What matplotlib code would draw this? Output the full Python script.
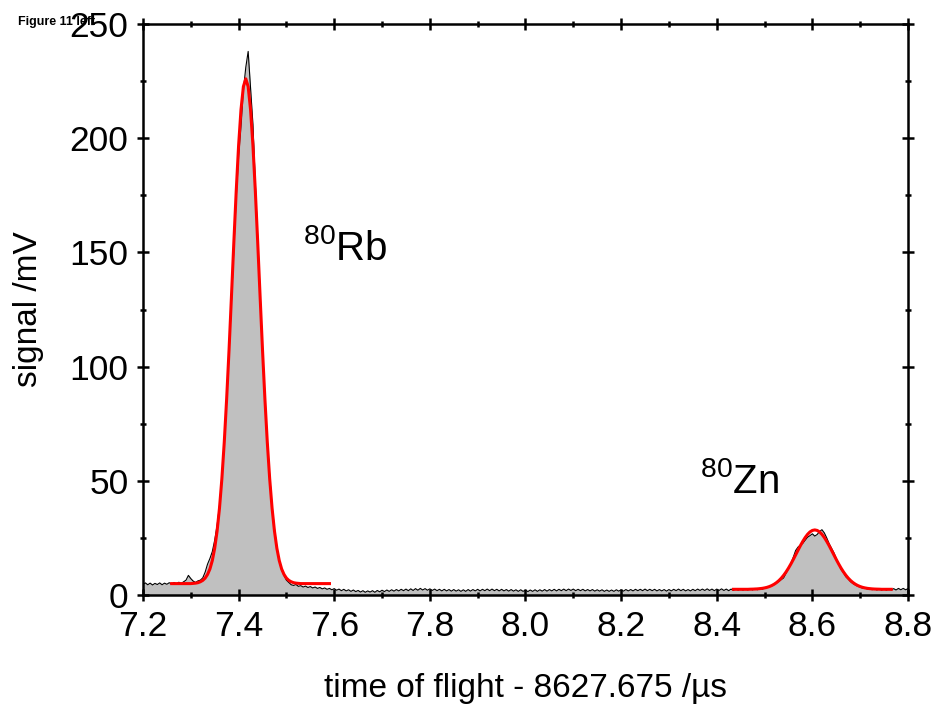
import numpy as np
import matplotlib
matplotlib.use("Agg")
import matplotlib.pyplot as plt
from matplotlib.ticker import MultipleLocator

# =====================================================
# SETTINGS
# =====================================================

plt.rcParams["font.family"] = ["Liberation Sans", "DejaVu Sans"]
plt.rcParams["mathtext.fontset"] = "custom"
plt.rcParams["mathtext.rm"] = "Liberation Sans"
plt.rcParams["mathtext.it"] = "Liberation Sans"

# =====================================================
# DATA
# =====================================================

T_START = 7.200
T_STEP = 0.005

# measured signal /mV, one value per bin from 7.200 to 8.800
signal = [
    4.6, 5.3, 4.5, 5.2, 4.4, 5.1, 4.6, 5.3, 4.5, 5.2,
    4.7, 5.4, 4.8, 5.5, 4.9, 5.6, 5.1, 5.8, 6.5, 8.6,
    7.2, 6.1, 5.5, 6.2, 6.5, 7.5, 10.0, 13.5, 16.0, 19.0,
    24.0, 30.5, 39.0, 51.0, 66.0, 85.0, 106.0, 129.0, 152.0, 174.0,
    192.0, 205.0, 221.0, 231.0, 238.0, 222.0, 206.0, 180.0, 156.0, 132.0,
    108.0, 87.0, 68.0, 52.0, 39.0, 29.0, 21.0, 15.0, 11.0, 8.5,
    6.5, 5.5, 4.5, 4.2, 4.6, 3.8, 4.1, 3.5, 3.9, 3.3,
    3.7, 3.1, 3.5, 2.9, 3.3, 2.7, 3.1, 2.5, 2.9, 2.3,
    2.8, 2.1, 2.6, 1.9, 2.5, 1.8, 2.3, 1.6, 2.2, 1.5,
    2.0, 1.3, 1.9, 1.2, 1.8, 1.3, 1.9, 1.2, 2.0, 1.4,
    2.1, 1.5, 2.2, 1.6, 2.3, 1.7, 2.4, 1.8, 2.5, 1.9,
    2.6, 1.9, 2.7, 2.0, 2.8, 2.1, 2.9, 2.2, 2.8, 2.1,
    2.7, 2.0, 2.6, 1.9, 2.5, 1.8, 2.5, 1.8, 2.4, 1.7,
    2.4, 1.7, 2.3, 1.6, 2.3, 1.6, 2.4, 1.7, 2.4, 1.8,
    2.5, 1.8, 2.5, 1.9, 2.6, 1.9, 2.6, 1.9, 2.5, 1.8,
    2.5, 1.8, 2.4, 1.7, 2.4, 1.7, 2.3, 1.6, 2.3, 1.6,
    2.2, 1.5, 2.2, 1.6, 2.3, 1.6, 2.3, 1.7, 2.4, 1.7,
    2.4, 1.8, 2.5, 1.8, 2.5, 1.9, 2.6, 1.9, 2.6, 2.0,
    2.6, 1.9, 2.5, 1.9, 2.5, 1.8, 2.4, 1.8, 2.4, 1.7,
    2.3, 1.7, 2.3, 1.6, 2.2, 1.6, 2.2, 1.6, 2.3, 1.7,
    2.3, 1.7, 2.4, 1.8, 2.4, 1.8, 2.5, 1.9, 2.5, 1.9,
    2.6, 1.9, 2.5, 1.9, 2.5, 1.8, 2.4, 1.8, 2.4, 1.7,
    2.4, 1.8, 2.5, 1.9, 2.6, 1.9, 2.5, 1.8, 2.4, 1.8,
    2.5, 1.9, 2.6, 2.0, 2.6, 2.0, 2.7, 2.0, 2.6, 1.9,
    2.6, 2.0, 2.7, 2.0, 2.6, 1.9, 2.6, 2.0, 2.7, 2.1,
    2.7, 2.1, 2.8, 2.2, 2.8, 2.2, 2.9, 2.3, 2.9, 2.5,
    3.0, 3.3, 3.6, 4.0, 4.6, 5.3, 5.9, 6.7, 7.5, 9.5,
    11.5, 13.8, 16.5, 19.5, 21.0, 21.8, 22.6, 24.0, 25.3, 26.0,
    26.8, 25.8, 26.5, 27.8, 28.6, 27.2, 25.0, 22.5, 20.5, 18.5,
    16.0, 13.5, 11.2, 9.8, 8.0, 7.0, 5.8, 5.0, 4.4, 3.8,
    3.5, 3.0, 3.2, 2.6, 2.9, 2.3, 2.8, 2.2, 2.7, 2.1,
    2.7, 2.1, 2.8, 2.2, 2.8, 2.2, 2.9, 2.3, 2.9, 2.3,
    2.8,
]

# fitted curve for 80Rb, 7.260 ... 7.590
RB_FIT_START = 7.260
rb_fit = [
    5.0, 5.0, 5.0, 5.0, 5.0, 5.0, 5.0, 5.0, 5.0, 5.1,
    5.2, 5.4, 5.8, 6.4, 7.4, 9.0, 11.4, 15.1, 20.5, 28.0,
    38.0, 50.9, 66.9, 85.9, 107.3, 130.5, 154.2, 176.8, 196.8, 212.5,
    222.6, 226.0, 222.6, 212.5, 196.8, 176.8, 154.2, 130.5, 107.3, 85.9,
    66.9, 50.9, 38.0, 28.0, 20.5, 15.1, 11.4, 9.0, 7.4, 6.4,
    5.8, 5.4, 5.2, 5.1, 5.0, 5.0, 5.0, 5.0, 5.0, 5.0,
    5.0, 5.0, 5.0, 5.0, 5.0, 5.0, 5.0,
]

# fitted curve for 80Zn, 8.435 ... 8.765
ZN_FIT_START = 8.435
zn_fit = [
    2.5, 2.5, 2.5, 2.5, 2.5, 2.5, 2.5, 2.55, 2.58, 2.62,
    2.69, 2.79, 2.92, 3.11, 3.36, 3.70, 4.15, 4.72, 5.44, 6.32,
    7.39, 8.66, 10.12, 11.77, 13.59, 15.54, 17.58, 19.63, 21.64, 23.51,
    25.19, 26.58, 27.63, 28.28, 28.5, 28.28, 27.63, 26.58, 25.19, 23.51,
    21.64, 19.63, 17.58, 15.54, 13.59, 11.77, 10.12, 8.66, 7.39, 6.32,
    5.44, 4.72, 4.15, 3.70, 3.36, 3.11, 2.92, 2.79, 2.69, 2.62,
    2.58, 2.55, 2.5, 2.5, 2.5, 2.5, 2.5,
]

t = T_START + T_STEP * np.arange(len(signal))
t_rb = RB_FIT_START + T_STEP * np.arange(len(rb_fit))
t_zn = ZN_FIT_START + T_STEP * np.arange(len(zn_fit))

# =====================================================
# PLOT
# =====================================================

fig = plt.figure(figsize=(9.5, 7.04), dpi=100)
ax = fig.add_axes([0.1505, 0.1548, 0.8053, 0.8111])

ax.fill_between(t, signal, 0, color="#c0c0c0", lw=0)
ax.plot(t, signal, color="black", lw=0.8)

ax.plot(t_rb, rb_fit, color="red", lw=2.2)
ax.plot(t_zn, zn_fit, color="red", lw=2.2)

ax.text(7.535, 146.7, r"$^{80}$Rb", fontsize=29, va="baseline")
ax.text(8.365, 44.7, r"$^{80}$Zn", fontsize=29, va="baseline")

ax.set_xlim(7.2, 8.8)
ax.set_ylim(0, 250)

ax.xaxis.set_major_locator(MultipleLocator(0.2))
ax.xaxis.set_minor_locator(MultipleLocator(0.1))
ax.yaxis.set_major_locator(MultipleLocator(50))
ax.yaxis.set_minor_locator(MultipleLocator(25))
ax.xaxis.set_major_formatter(plt.FuncFormatter(lambda v, p: f"{v:.1f}"))

ax.tick_params(which="both", direction="inout", top=True, right=True,
               width=1.8, labelsize=25.5)
ax.tick_params(which="major", length=9)
ax.tick_params(which="minor", length=5)
ax.tick_params(axis="x", pad=6)
ax.tick_params(axis="y", pad=6)

for s in ax.spines.values():
    s.set_linewidth(1.8)

ax.set_xlabel("time of flight - 8627.675 /µs", fontsize=24, labelpad=22)
ax.set_ylabel("signal /mV", fontsize=24, labelpad=18)

fig.text(0.019, 0.9687, "Figure 11 left", fontsize=9, fontweight="bold",
         va="center", zorder=-1)

plt.savefig("out.png", dpi=100)
plt.close()
